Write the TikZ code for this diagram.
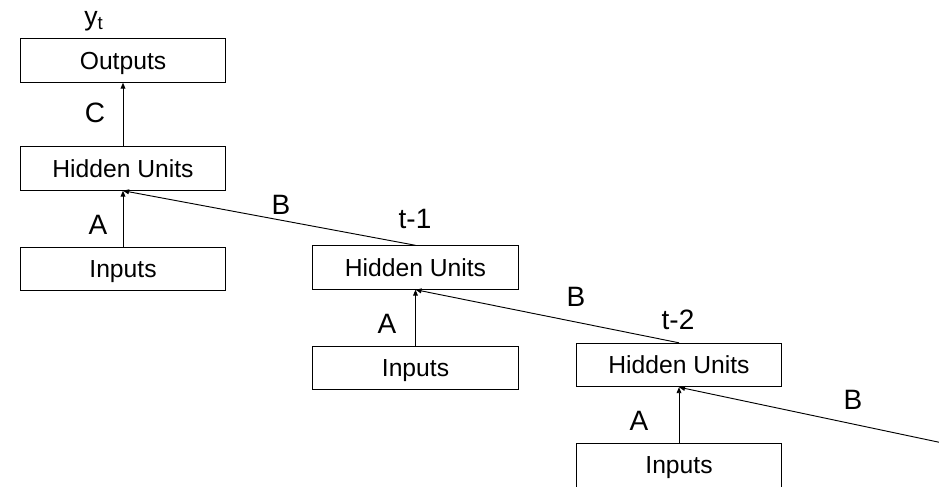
\documentclass[tikz,border=0pt]{standalone}
\usepackage{fontspec}
\setmainfont{Liberation Sans}
\usepackage{tikz}
\usetikzlibrary{arrows.meta}

\tikzset{
  unitbox/.style={draw, line width=0.8pt, minimum width=154pt, minimum height=32.5pt, inner sep=0pt, text depth=0pt, font=\fontsize{18.5}{22}\selectfont},
  steplabel/.style={font=\fontsize{21}{25}\selectfont},
  wire/.style={-{Triangle[length=4.5pt,width=3.6pt]}, line width=0.7pt}
}

\begin{document}
\begin{tikzpicture}[x=0.75pt, y=-0.75pt]
\useasboundingbox (0,0) rectangle (939,486);
% output layer at time t
\node[unitbox] (out) at (123,60.5) {Outputs};
\node[steplabel, font=\fontsize{20}{24}\selectfont] (yt) at (94,21) {y\textsubscript{t}};
% unrolled time steps
\foreach \i/\x/\y/\ax in {1/123/168.5/98, 2/415.5/267.5/387, 3/679/365/639}
{
	\node[unitbox] (hid\i) at (\x,\y) {Hidden Units};
	\node[unitbox] (in\i) at (\x,\y+100.5) {Inputs};
	\draw[wire] (in\i) -- (hid\i);
	\node[steplabel] (a\i) at (\ax,\y+56) {A};
}
\draw[wire] (hid1) -- (out);
\node[steplabel] (c) at (95,113) {C};
\node[steplabel] (tm1) at (415,219) {t-1};
\node[steplabel] (tm2) at (678,320) {t-2};
% recurrent connections
\coordinate (prev) at (945,443.5);
\draw[wire] (hid2.north) -- (hid1.south);
\draw[wire] (hid3.north) -- (hid2.south);
\draw[wire] (prev) -- (hid3.south);
\node[steplabel] (b1) at (281,205) {B};
\node[steplabel] (b2) at (576,297) {B};
\node[steplabel] (b3) at (853,400) {B};
\end{tikzpicture}
\end{document}
